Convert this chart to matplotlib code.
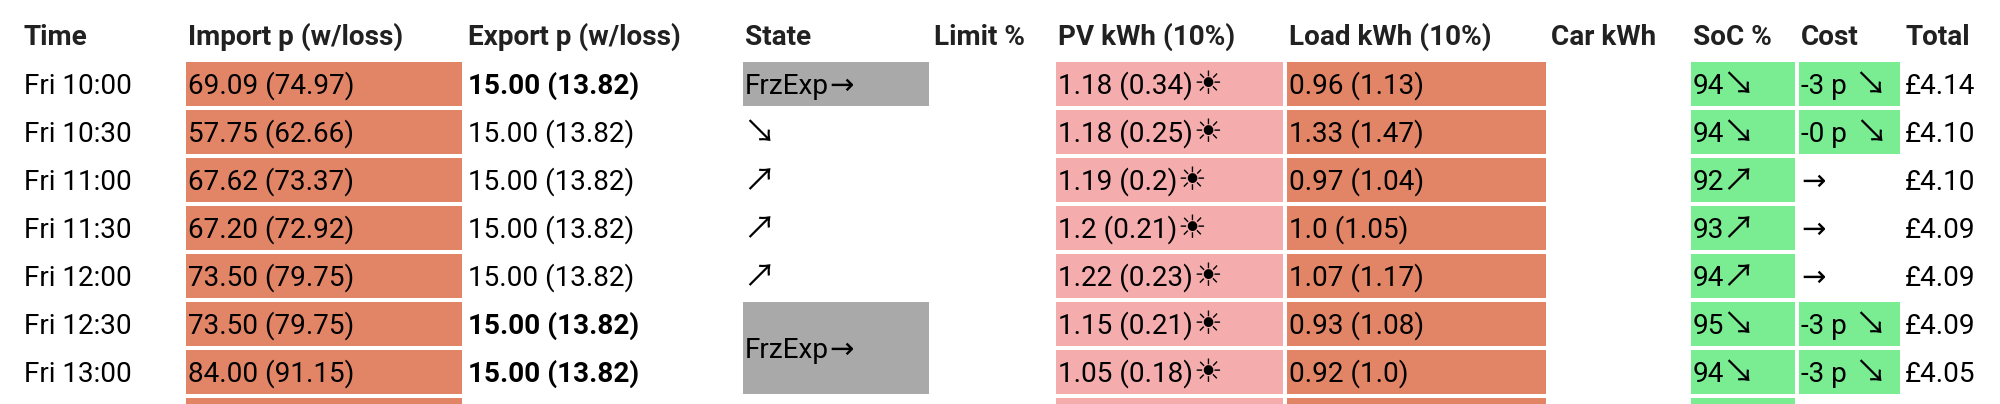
import matplotlib
matplotlib.use("Agg")
import matplotlib.pyplot as plt
from matplotlib.patches import Rectangle

# table contents
HEADERS = ["Time", "Import p (w/loss)", "Export p (w/loss)", "State", "Limit %",
           "PV kWh (10%)", "Load kWh (10%)", "Car kWh", "SoC %", "Cost", "Total"]
TIMES = ["Fri 10:00", "Fri 10:30", "Fri 11:00", "Fri 11:30", "Fri 12:00", "Fri 12:30", "Fri 13:00"]
IMPORT_P = ["69.09 (74.97)", "57.75 (62.66)", "67.62 (73.37)", "67.20 (72.92)",
            "73.50 (79.75)", "73.50 (79.75)", "84.00 (91.15)"]
EXPORT_P = ["15.00 (13.82)"] * 7
EXPORT_BOLD = [True, False, False, False, False, True, True]
STATE = ["FrzExp\u2192", "\u2198", "\u2197", "\u2197", "\u2197", "FrzExp\u2192", ""]
PV = ["1.18 (0.34)\u2600", "1.18 (0.25)\u2600", "1.19 (0.2)\u2600", "1.2 (0.21)\u2600",
      "1.22 (0.23)\u2600", "1.15 (0.21)\u2600", "1.05 (0.18)\u2600"]
LOAD = ["0.96 (1.13)", "1.33 (1.47)", "0.97 (1.04)", "1.0 (1.05)",
        "1.07 (1.17)", "0.93 (1.08)", "0.92 (1.0)"]
SOC = ["94\u2198", "94\u2198", "92\u2197", "93\u2197", "94\u2197", "95\u2198", "94\u2198"]
COST = ["-3 p \u2198", "-0 p \u2198", "\u2192", "\u2192", "\u2192", "-3 p \u2198", "-3 p \u2198"]
COST_GREEN = [True, True, False, False, False, True, True]
TOTAL = ["\u00a34.14", "\u00a34.10", "\u00a34.10", "\u00a34.09", "\u00a34.09", "\u00a34.09", "\u00a34.05"]

# colours and layout, in pixels of the 2000x404 picture
ORANGE = "#e28566"
PINK = "#f4acac"
GREEN = "#7aec92"
GREY = "#a9a9a9"
ROW_TOP = 62
ROW_STEP = 48
ROW_H = 44
FS = 20.1
FONTS = ["Roboto", "DejaVu Sans"]
# symbols come from other fonts and sit larger than the digits: font, size, x and y nudge
SYMBOLS = {"\u2192": ("DejaVu Sans", 21, 0, 0), "\u2198": ("Noto Sans CJK JP", 23, -2, 1),
           "\u2197": ("Noto Sans CJK JP", 23, -2, 1), "\u2600": ("DejaVu Sans", 23, 0, 0)}

# (left, right) of the cells, text starts 2 px inside
COLS = {"time": (22, 183), "import": (186, 462), "export": (466, 740), "state": (743, 929),
        "limit": (932, 1053), "pv": (1056, 1283), "load": (1287, 1546), "car": (1549, 1688),
        "soc": (1691, 1795), "cost": (1799, 1900), "total": (1903, 2000)}

fig = plt.figure(figsize=(20, 4.04), dpi=100)
ax = fig.add_axes([0, 0, 1, 1])
ax.set_xlim(0, 2000)
ax.set_ylim(404, 0)
ax.axis("off")
rend = fig.canvas.get_renderer()


def cell(col, row, color, nrows=1):
    x0, x1 = COLS[col]
    y0 = ROW_TOP + row * ROW_STEP
    ax.add_patch(Rectangle((x0, y0), x1 - x0, ROW_H + (nrows - 1) * ROW_STEP, fc=color, ec="none"))


def put(col, row, s, bold=False, nrows=1):
    # baseline of the row; a trailing symbol is a second text placed after the first
    y = ROW_TOP + row * ROW_STEP + (ROW_H + (nrows - 1) * ROW_STEP) / 2 + 10
    x = COLS[col][0] + 2
    sym = s[-1] if s and s[-1] in SYMBOLS else ""
    body = s[:-1] if sym else s
    weight = "bold" if bold else "normal"
    if body:
        t = ax.text(x, y, body, fontsize=FS, family=FONTS, va="baseline", fontweight=weight, color="black")
        x = t.get_window_extent(rend).x1 + (3 if body.endswith(" ") else 0)
    if sym:
        fam, size, dx, dy = SYMBOLS[sym]
        ax.text(x + dx, y + dy, sym, fontsize=size, family=[fam, "DejaVu Sans"], va="baseline", color="black")


for name, head in zip(COLS, HEADERS):
    ax.text(COLS[name][0] + 2, 45, head, fontsize=FS, family=FONTS, va="baseline",
            fontweight="bold", color="#212121")

for i in range(len(TIMES)):
    put("time", i, TIMES[i])
    cell("import", i, ORANGE)
    put("import", i, IMPORT_P[i])
    put("export", i, EXPORT_P[i], bold=EXPORT_BOLD[i])
    cell("pv", i, PINK)
    put("pv", i, PV[i])
    cell("load", i, ORANGE)
    put("load", i, LOAD[i])
    cell("soc", i, GREEN)
    put("soc", i, SOC[i])
    if COST_GREEN[i]:
        cell("cost", i, GREEN)
    put("cost", i, COST[i])
    put("total", i, TOTAL[i])

# state column: first and last entries are grey blocks, the last spans two rows
cell("state", 0, GREY)
put("state", 0, STATE[0])
for i in (1, 2, 3, 4):
    put("state", i, STATE[i])
cell("state", 5, GREY, nrows=2)
put("state", 5, STATE[5], nrows=2)

# start of the next row, cut by the picture edge
for col, color in (("import", ORANGE), ("pv", PINK), ("load", ORANGE), ("soc", GREEN)):
    cell(col, 7, color)

fig.savefig("out.png", dpi=100)
